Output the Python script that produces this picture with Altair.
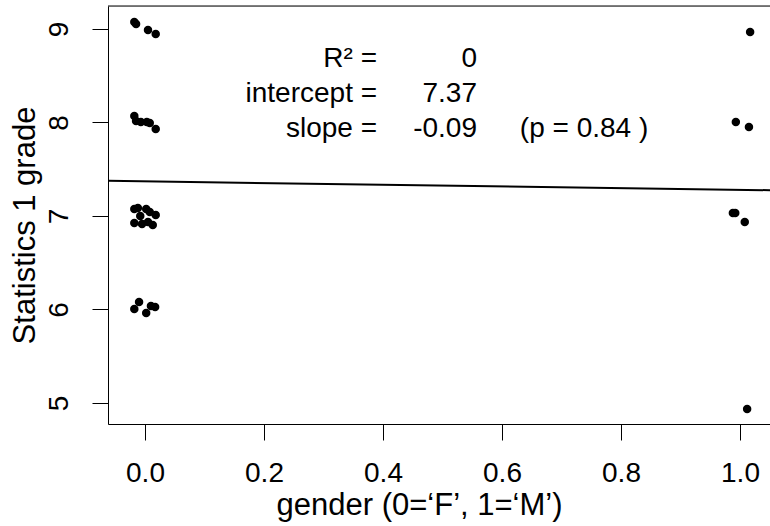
import altair as alt
import pandas as pd

# jittered gender (0=F, 1=M) and Statistics 1 grade
gender_f = [-0.018, -0.015, 0.005, 0.018,
            -0.018, -0.015, -0.007, 0.003, 0.008, 0.018,
            -0.018, -0.012, 0.002, 0.008, 0.018, -0.018, -0.005, 0.005, 0.013, -0.008,
            -0.018, -0.010, 0.002, 0.010, 0.017]
grade_f = [9.075, 9.053, 8.989, 8.947,
           8.070, 8.016, 8.005, 8.005, 7.995, 7.930,
           7.075, 7.086, 7.075, 7.043, 7.011, 6.925, 6.914, 6.936, 6.904, 7.000,
           6.005, 6.080, 5.963, 6.037, 6.027]
gender_m = [1.017, 0.993, 1.015, 0.988, 0.992, 1.008, 1.012]
grade_m = [8.968, 8.005, 7.952, 7.032, 7.032, 6.936, 4.936]

intercept = 7.37
slope = -0.09
r2_text = "0"
intercept_text = "7.37"
slope_text = "-0.09"
p_text = "(p = 0.84 )"

x_ticks = [0.0, 0.2, 0.4, 0.6, 0.8, 1.0]
y_ticks = [5, 6, 7, 8, 9]
x_dom = [-0.0622, 1.0504]
y_dom = [4.775, 9.246]

W, H = 662, 418
FONT = "Liberation Sans"
FS_TICK = 28
FS_TITLE = 31
FS_ANN = 28

pts = pd.DataFrame({"x": gender_f + gender_m, "y": grade_f + grade_m})
line_df = pd.DataFrame({"x": x_dom, "y": [intercept + slope * v for v in x_dom]})

xs = alt.Scale(domain=x_dom, nice=False, zero=False)
ys = alt.Scale(domain=y_dom, nice=False, zero=False)

xax = alt.Axis(values=x_ticks, format=".1f", title="gender (0=‘F’, 1=‘M’)",
               grid=False, tickSize=16, labelPadding=19, labelFontSize=FS_TICK,
               titleFontSize=FS_TITLE, labelFont=FONT, titleFont=FONT, titleFontWeight="normal",
               domainColor="black", tickColor="black", labelColor="black", titleColor="black",
               titleY=81, titleBaseline="middle", titleX=W / 2 - 20)
yax = alt.Axis(values=y_ticks, format="d", title="Statistics 1 grade",
               grid=False, tickSize=16, labelPadding=33, labelAngle=270,
               labelAlign="center", labelBaseline="middle", labelFontSize=FS_TICK,
               titleFontSize=FS_TITLE, labelFont=FONT, titleFont=FONT, titleFontWeight="normal",
               domainColor="black", tickColor="black", labelColor="black", titleColor="black",
               titleX=-83, titleY=H / 2 + 10, titleBaseline="middle", titleAngle=270)

points = alt.Chart(pts).mark_circle(size=72, color="black", opacity=1).encode(
    x=alt.X("x:Q", scale=xs, axis=xax),
    y=alt.Y("y:Q", scale=ys, axis=yax),
)

reg = alt.Chart(line_df).mark_line(color="black", strokeWidth=2).encode(
    x=alt.X("x:Q", scale=xs), y=alt.Y("y:Q", scale=ys))

labels_df = pd.DataFrame({
    "x": [0.39, 0.39, 0.39],
    "y": [8.684, 8.305, 7.930],
    "t": ["R\u00b2 =", "intercept =", "slope ="],
})
vals_df = pd.DataFrame({
    "x": [0.558, 0.558, 0.558],
    "y": [8.684, 8.305, 7.930],
    "t": [r2_text, intercept_text, slope_text],
})
p_df = pd.DataFrame({"x": [0.63], "y": [7.930], "t": [p_text]})

lab = alt.Chart(labels_df).mark_text(align="right", baseline="middle", fontSize=FS_ANN,
                                      font=FONT, color="black").encode(
    x=alt.X("x:Q", scale=xs), y=alt.Y("y:Q", scale=ys), text="t:N")
val = alt.Chart(vals_df).mark_text(align="right", baseline="middle", fontSize=FS_ANN,
                                    font=FONT, color="black").encode(
    x=alt.X("x:Q", scale=xs), y=alt.Y("y:Q", scale=ys), text="t:N")
pl = alt.Chart(p_df).mark_text(align="left", baseline="middle", fontSize=FS_ANN,
                                font=FONT, color="black").encode(
    x=alt.X("x:Q", scale=xs), y=alt.Y("y:Q", scale=ys), text="t:N")

top = alt.Chart(pd.DataFrame({"a": [0]})).mark_rule(color="black", strokeWidth=1).encode(
    x=alt.value(0), x2=alt.value(W), y=alt.value(0))

chart = alt.layer(points, reg, lab, val, pl, top).properties(
    width=W, height=H,
    autosize=alt.AutoSizeParams(type="none"),
    padding={"left": 108, "top": 6, "right": 0, "bottom": 102},
).configure_view(stroke=None).configure(background="white")

chart.save("out.html", embed_options={"renderer": "svg", "actions": False})
